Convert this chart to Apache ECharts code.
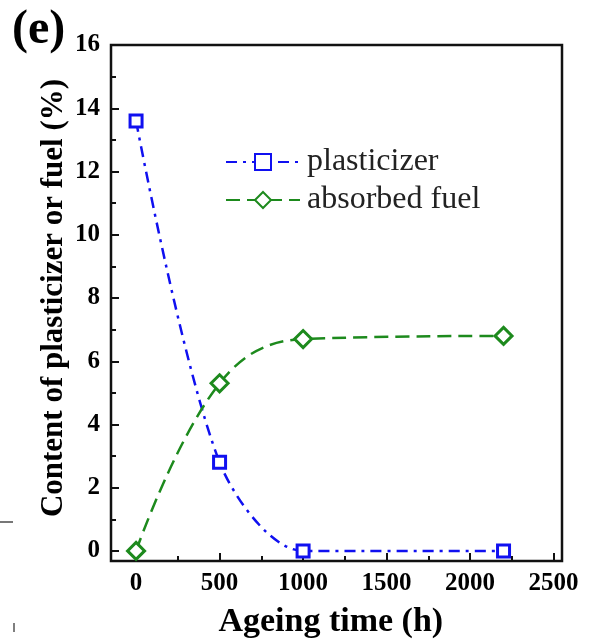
<!DOCTYPE html>
<html><head><meta charset="utf-8">
<script src="https://cdn.jsdelivr.net/npm/echarts@6/dist/echarts.min.js"></script>
<style>html,body{margin:0;padding:0;background:#fff}#c{width:593px;height:644px}</style>
</head><body><div id="c"></div>
<script>
const ageingTime = [0, 500, 1000, 2200];
const plasticizer = [13.6, 2.8, 0.0, 0.0];
const absorbedFuel = [0.0, 5.3, 6.7, 6.8];
const xTickRange = [0, 2500, 500];
const yTickRange = [0, 16, 2];

const serif = 'Liberation Serif';
const chart = echarts.init(document.getElementById('c'));
const labelStyle = {fontFamily: serif, fontWeight: 'bold', fontSize: 25, color: '#000'};
const blue = '#1010f0', green = '#1d8a1d';

chart.setOption({
  animation: false,
  backgroundColor: '#fff',
  grid: [
    {left: 111, right: 31, top: 45, bottom: 83, show: true, borderColor: '#111', borderWidth: 2.5, backgroundColor: 'transparent'},
    {left: 136, right: 39.5, top: 45, bottom: 83},
    {left: 111, right: 31, top: 45, bottom: 93}
  ],
  legend: {
    orient: 'vertical', left: 220, top: 141, itemGap: 6,
    itemWidth: 74, itemHeight: 20,
    textStyle: {fontFamily: serif, fontSize: 32, color: '#222', padding: [0, 0, 0, 2]},
    data: ['plasticizer', 'absorbed fuel']
  },
  xAxis: [
    {gridIndex: 0, type: 'value', min: -150, max: 2550, show: false},
    {gridIndex: 1, type: 'value', min: xTickRange[0], max: xTickRange[1], interval: xTickRange[2],
     axisLine: {show: false}, splitLine: {show: false},
     axisTick: {inside: true, length: 8, lineStyle: {color: '#111', width: 2}},
     minorTick: {show: true, splitNumber: 2, length: 5, lineStyle: {color: '#111', width: 2}},
     axisLabel: Object.assign({margin: 10, formatter: v => String(v)}, labelStyle),
     name: 'Ageing time (h)', nameLocation: 'middle', nameGap: 44,
     nameTextStyle: {fontFamily: serif, fontWeight: 'bold', fontSize: 34, color: '#000', padding: [0, 28, 0, 0]}},
    {gridIndex: 2, type: 'value', min: 0, max: 1, show: false}
  ],
  yAxis: [
    {gridIndex: 0, type: 'value', min: -0.32, max: 16, show: false},
    {gridIndex: 1, type: 'value', min: 0, max: 1, show: false},
    {gridIndex: 2, type: 'value', min: yTickRange[0], max: yTickRange[1], interval: yTickRange[2],
     axisLine: {show: false}, splitLine: {show: false},
     axisTick: {inside: true, length: 8, lineStyle: {color: '#111', width: 2}},
     minorTick: {show: true, splitNumber: 2, length: 5, lineStyle: {color: '#111', width: 2}},
     axisLabel: Object.assign({margin: 11, formatter: v => String(v)}, labelStyle),
     name: 'Content of plasticizer or fuel (%)', nameLocation: 'middle', nameGap: 42,
     nameMoveOverlap: false,
     nameTextStyle: {fontFamily: serif, fontWeight: 'bold', fontSize: 31, color: '#000'}}
  ],
  series: [
    {name: 'plasticizer', type: 'line', xAxisIndex: 0, yAxisIndex: 0,
     data: ageingTime.map((t, i) => [t, plasticizer[i]]),
     smooth: 0.3, symbol: 'rect', symbolSize: 12,
     lineStyle: {color: blue, width: 2.5, type: [11, 6, 3, 6]},
     itemStyle: {color: '#fff', borderColor: blue, borderWidth: 3}, z: 3},
    {name: 'absorbed fuel', type: 'line', xAxisIndex: 0, yAxisIndex: 0,
     data: ageingTime.map((t, i) => [t, absorbedFuel[i]]),
     smooth: 0.4, symbol: 'diamond', symbolSize: 17,
     lineStyle: {color: green, width: 2.5, type: [14, 7]},
     itemStyle: {color: '#fff', borderColor: green, borderWidth: 3}, z: 3}
  ],
  graphic: [
    {type: 'text', left: 12, top: 7, style: {text: '(e)', fontFamily: serif, fontWeight: 'bold', fontSize: 48, fill: '#000'}},
    {type: 'line', shape: {x1: 0, y1: 522, x2: 13, y2: 522}, style: {stroke: '#777', lineWidth: 2}},
    {type: 'line', shape: {x1: 14, y1: 623, x2: 14, y2: 632}, style: {stroke: '#555', lineWidth: 1.5}}
  ]
});
</script></body></html>
